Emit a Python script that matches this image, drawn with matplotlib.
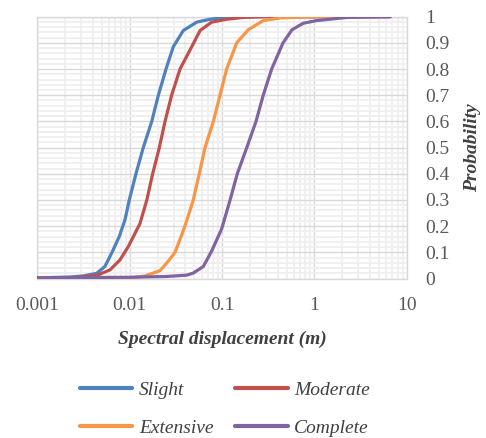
import matplotlib.pyplot as plt
from matplotlib.ticker import LogLocator, MultipleLocator, FixedLocator, FixedFormatter, NullFormatter

# Fragility curves: spectral displacement (m) vs. probability of exceedance
slight_sd = [0.001, 0.00225, 0.00313, 0.00438, 0.00538, 0.00636, 0.00769, 0.00887, 0.00988,
             0.01167, 0.0140, 0.0173, 0.0204, 0.0247, 0.0296, 0.0380, 0.0531, 0.074,
             0.102, 0.16, 6.6]
slight_p = [0.003, 0.006, 0.01, 0.02, 0.046, 0.097, 0.16, 0.224, 0.30,
            0.40, 0.50, 0.60, 0.70, 0.80, 0.885, 0.947, 0.979, 0.99,
            0.997, 1.0, 1.0]

moderate_sd = [0.001, 0.0025, 0.00438, 0.0061, 0.00783, 0.00964, 0.0129, 0.0153, 0.0177,
               0.0209, 0.0241, 0.0284, 0.0350, 0.0469, 0.0577, 0.0771, 0.112, 0.17,
               0.3, 6.6]
moderate_p = [0.002, 0.004, 0.012, 0.033, 0.071, 0.122, 0.21, 0.30, 0.40,
              0.50, 0.60, 0.70, 0.80, 0.885, 0.947, 0.979, 0.99, 0.997,
              1.0, 1.0]

extensive_sd = [0.001, 0.01, 0.0146, 0.0212, 0.0251, 0.0309, 0.0368, 0.0413, 0.0487,
                0.0566, 0.0653, 0.0804, 0.0949, 0.112, 0.144, 0.192, 0.279, 0.424,
                1.0, 6.6]
extensive_p = [0.001, 0.002, 0.01, 0.03, 0.059, 0.10, 0.17, 0.22, 0.30,
               0.40, 0.50, 0.60, 0.70, 0.80, 0.90, 0.95, 0.985, 0.995,
               1.0, 1.0]

complete_sd = [0.001, 0.01, 0.0251, 0.0414, 0.0488, 0.0626, 0.0771, 0.0990, 0.122, 0.146,
               0.185, 0.233, 0.279, 0.344, 0.457, 0.572, 0.759, 1.06, 2.24, 6.64]
complete_p = [0.003, 0.005, 0.008, 0.013, 0.021, 0.046, 0.105, 0.19, 0.30, 0.40,
              0.50, 0.60, 0.70, 0.80, 0.90, 0.95, 0.975, 0.985, 0.997, 1.0]

x_ticks = [0.001, 0.01, 0.1, 1, 10]
x_tick_labels = ['0.001', '0.01', '0.1', '1', '10']
y_ticks = [0, 0.1, 0.2, 0.3, 0.4, 0.5, 0.6, 0.7, 0.8, 0.9, 1.0]
y_tick_labels = ['0', '0.1', '0.2', '0.3', '0.4', '0.5', '0.6', '0.7', '0.8', '0.9', '1']

plt.rcParams['font.family'] = ['Liberation Serif', 'DejaVu Serif']

fig = plt.figure(figsize=(4.86, 4.38), dpi=100)
ax = fig.add_axes([0.077, 0.364, 0.76, 0.598])

series = [
    (slight_sd, slight_p, '#4F81BD', 'Slight'),
    (moderate_sd, moderate_p, '#C0504D', 'Moderate'),
    (extensive_sd, extensive_p, '#F79646', 'Extensive'),
    (complete_sd, complete_p, '#8064A2', 'Complete'),
]
lines = {}
for sd, p, col, name in series:
    lines[name], = ax.plot(sd, p, color=col, lw=2.3, label=name,
                           solid_capstyle='round', solid_joinstyle='round', zorder=3)

ax.set_xscale('log')
ax.set_xlim(0.001, 10)
ax.set_ylim(0, 1)

ax.xaxis.set_major_locator(FixedLocator(x_ticks))
ax.xaxis.set_major_formatter(FixedFormatter(x_tick_labels))
ax.xaxis.set_minor_locator(LogLocator(base=10, subs=range(2, 10), numticks=20))
ax.xaxis.set_minor_formatter(NullFormatter())

ax.yaxis.tick_right()
ax.yaxis.set_major_locator(FixedLocator(y_ticks))
ax.yaxis.set_major_formatter(FixedFormatter(y_tick_labels))
ax.yaxis.set_minor_locator(MultipleLocator(0.02))

ax.grid(which='minor', color='#EFEFEF', lw=1.3, zorder=0)
ax.grid(which='major', color='#D9D9D9', lw=1.0, zorder=1)
ax.set_axisbelow(True)

ax.tick_params(which='both', length=0)
ax.tick_params(axis='x', labelsize=14, labelcolor='#595959', pad=13)
ax.tick_params(axis='y', labelsize=14, labelcolor='#595959', pad=13)
for s in ax.spines.values():
    s.set_color('#D9D9D9')
    s.set_linewidth(1.0)

ax.set_xlabel('Spectral displacement (m)', fontsize=14, fontweight='bold',
              fontstyle='italic', color='#404040', labelpad=12)
ax.yaxis.set_label_position('right')
ax.set_ylabel('Probability', fontsize=14, fontweight='bold', fontstyle='italic',
              color='#404040', labelpad=11)

# two rows: Slight / Moderate, then Extensive / Complete
order = ['Slight', 'Extensive', 'Moderate', 'Complete']
leg = fig.legend([lines[n] for n in order], order, loc='center',
                 bbox_to_anchor=(225 / 486, 1 - 409 / 438), ncol=2,
                 frameon=False, handlelength=2.7, handletextpad=0.35,
                 columnspacing=1.1, labelspacing=1.05,
                 prop={'size': 14, 'style': 'italic'})
for t in leg.get_texts():
    t.set_color('#404040')
for h in leg.get_lines():
    h.set_linewidth(3)

fig.savefig('out.png', dpi=100)
